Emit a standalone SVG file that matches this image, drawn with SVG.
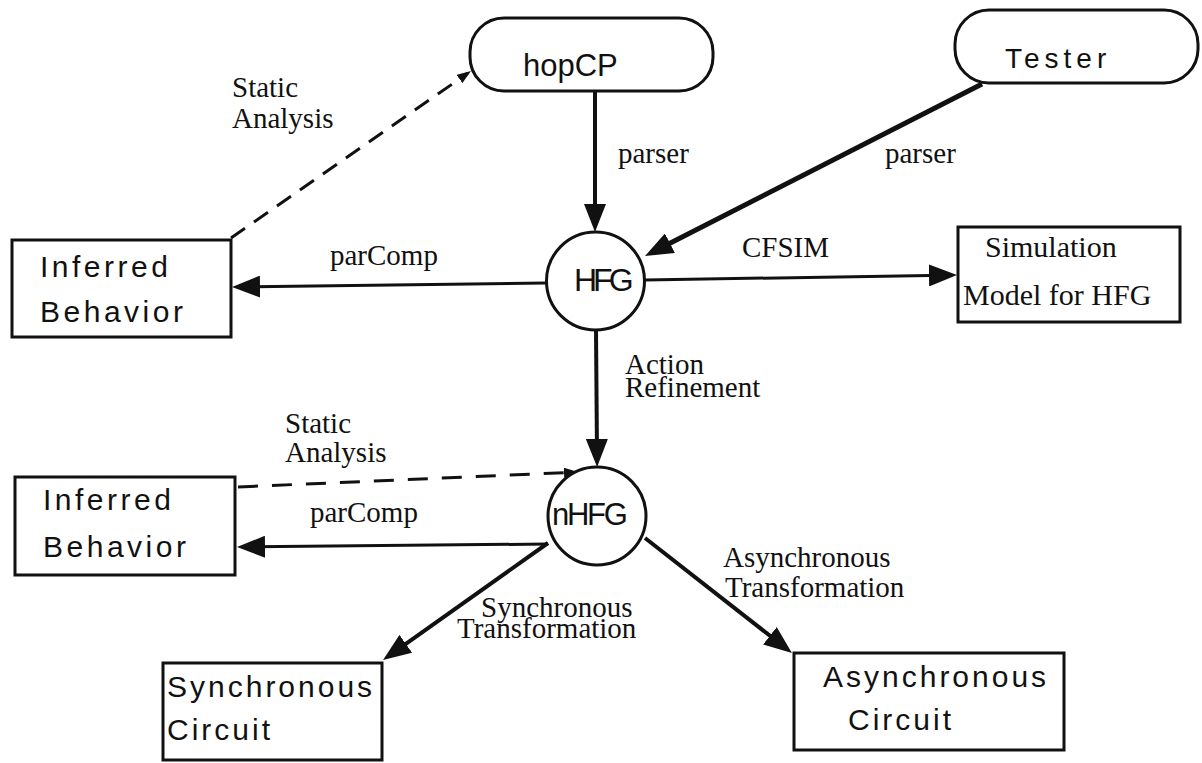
<svg xmlns="http://www.w3.org/2000/svg" width="1202" height="763" viewBox="0 0 1202 763">
  <style>
    .box { fill: #fff; stroke: #111; stroke-width: 3; }
    .node-text { font-family: "Liberation Sans", Arial, sans-serif; font-size: 30px; fill: #111; letter-spacing: 3.5px; }
    .label { font-family: "Liberation Serif", "Times New Roman", serif; font-size: 29px; fill: #111; }
    .edge { fill: none; stroke: #111; stroke-width: 4; }
    .thin { stroke-width: 3; }
    .dash { fill: none; stroke: #111; stroke-width: 3; stroke-dasharray: 17 11; }
  </style>
  <defs>
    <marker id="ah" viewBox="0 0 28 22" markerWidth="28" markerHeight="22" refX="16" refY="11" orient="auto" markerUnits="userSpaceOnUse">
      <path d="M0,0 L28,11 L0,22 Z" fill="#111"/>
    </marker>
    <marker id="sah" viewBox="0 0 14 10" markerWidth="14" markerHeight="10" refX="10" refY="5" orient="auto" markerUnits="userSpaceOnUse">
      <path d="M0,0 L14,5 L0,10 Z" fill="#111"/>
    </marker>
  </defs>
  <rect width="1202" height="763" fill="#fff"/>

  <!-- connectors -->
  <g id="connectors">
    <line class="edge" x1="595" y1="91" x2="595" y2="220" marker-end="url(#ah)"/>
    <line class="edge" x1="982" y1="84" x2="655.7" y2="250.5" style="stroke-width:5" marker-end="url(#ah)"/>
    <line class="edge thin" x1="546" y1="283" x2="244" y2="286.8" marker-end="url(#ah)"/>
    <line class="edge thin" x1="645" y1="280" x2="945" y2="275.2" marker-end="url(#ah)"/>
    <line class="edge" x1="596" y1="330" x2="597" y2="455" marker-end="url(#ah)"/>
    <line class="dash" x1="231" y1="238" x2="467.7" y2="73.3" marker-end="url(#sah)"/>
    <line class="dash" x1="238" y1="487" x2="574" y2="472.2" style="stroke-dasharray:20 14" marker-end="url(#sah)"/>
    <line class="edge thin" x1="548" y1="544" x2="249" y2="546.9" marker-end="url(#ah)"/>
    <line class="edge" x1="548" y1="543" x2="392.8" y2="653.1" marker-end="url(#ah)"/>
    <line class="edge" x1="645" y1="538" x2="782.5" y2="645.6" marker-end="url(#ah)"/>

    <!-- connector labels -->
    <text class="label" x="232" y="97">Static</text>
    <text class="label" x="232" y="128">Analysis</text>
    <text class="label" x="618" y="163">parser</text>
    <text class="label" x="885" y="163">parser</text>
    <text class="label" x="330" y="265">parComp</text>
    <text class="label" x="742" y="257">CFSIM</text>
    <text class="label" x="625" y="374">Action</text>
    <text class="label" x="625" y="397">Refinement</text>
    <text class="label" x="285" y="433">Static</text>
    <text class="label" x="285" y="462">Analysis</text>
    <text class="label" x="310" y="522">parComp</text>
    <text class="label" x="481" y="617">Synchronous</text>
    <text class="label" x="457" y="638">Transformation</text>
    <text class="label" x="723" y="567">Asynchronous</text>
    <text class="label" x="725" y="597">Transformation</text>
  </g>

  <!-- source programs -->
  <g id="hopCP">
    <rect class="box" x="470" y="18" width="243" height="73" rx="34" ry="34"/>
    <text class="node-text" x="523" y="76" style="font-size:31px;letter-spacing:0">hopCP</text>
  </g>
  <g id="tester">
    <rect class="box" x="955" y="10" width="243" height="73" rx="34" ry="34"/>
    <text class="node-text" x="1005" y="68" style="font-size:28px;letter-spacing:5px">Tester</text>
  </g>

  <!-- graph representations -->
  <g id="hfg">
    <circle class="box" cx="595.5" cy="281" r="49"/>
    <text class="node-text" x="574" y="291" style="font-size:32px;letter-spacing:-4px">HFG</text>
  </g>
  <g id="nhfg">
    <circle class="box" cx="597" cy="516" r="49"/>
    <text class="node-text" x="552" y="525" style="font-size:31px;letter-spacing:-2.3px">nHFG</text>
  </g>

  <!-- results -->
  <g id="inferred-hfg">
    <rect class="box" x="12" y="240" width="219" height="97"/>
    <text class="node-text" x="40" y="277">Inferred</text>
    <text class="node-text" x="40" y="322">Behavior</text>
  </g>
  <g id="simulation-model">
    <rect class="box" x="958" y="227" width="222" height="95"/>
    <text class="label" x="985" y="257" style="font-size:30px">Simulation</text>
    <text class="label" x="963" y="305" style="font-size:30px">Model for HFG</text>
  </g>
  <g id="inferred-nhfg">
    <rect class="box" x="15" y="477" width="220" height="98"/>
    <text class="node-text" x="43" y="510">Inferred</text>
    <text class="node-text" x="43" y="557">Behavior</text>
  </g>
  <g id="sync-circuit">
    <rect class="box" x="163" y="663" width="219" height="97"/>
    <text class="node-text" x="167" y="697" style="letter-spacing:3px">Synchronous</text>
    <text class="node-text" x="167" y="740" style="letter-spacing:3px">Circuit</text>
  </g>
  <g id="async-circuit">
    <rect class="box" x="794" y="653" width="270" height="97"/>
    <text class="node-text" x="823" y="687" style="letter-spacing:3px">Asynchronous</text>
    <text class="node-text" x="848" y="730" style="letter-spacing:3px">Circuit</text>
  </g>
</svg>
